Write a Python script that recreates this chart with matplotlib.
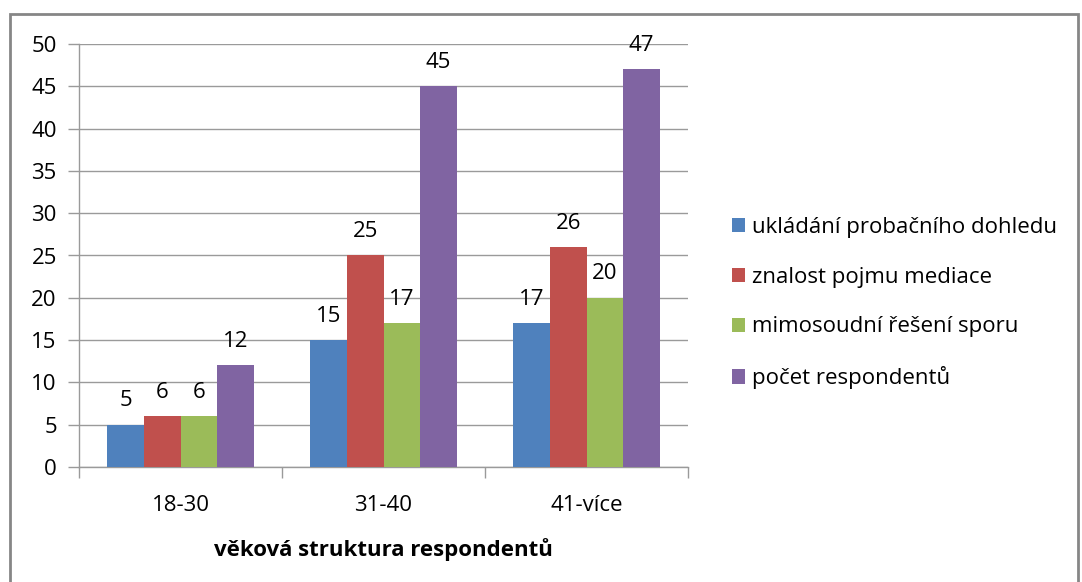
import matplotlib
matplotlib.use("Agg")
import matplotlib.pyplot as plt
import numpy as np
from matplotlib.patches import Rectangle

categories = ["18-30", "31-40", "41-více"]
series_names = ["ukládání probačního dohledu", "znalost pojmu mediace",
                "mimosoudní řešení sporu", "počet respondentů"]
s1 = [5, 15, 17]
s2 = [6, 25, 26]
s3 = [6, 17, 20]
s4 = [12, 45, 47]
series = [s1, s2, s3, s4]
colors = ["#4F81BD", "#C0504D", "#9BBB59", "#8064A2"]
yticks = [0, 5, 10, 15, 20, 25, 30, 35, 40, 45, 50]

plt.rcParams['font.family'] = ['Open Sans', 'DejaVu Sans']
FS = 16

W, H = 1082, 582
fig = plt.figure(figsize=(W/100, H/100), dpi=100)
fig.patches.append(Rectangle((10/W, -0.05), (1078-10)/W, 1.05-14/H, transform=fig.transFigure,
                             fill=False, edgecolor="#868686", linewidth=2))

left, right, top, bottom = 79, 688, 44, 467
ax = fig.add_axes([left/W, 1-bottom/H, (right-left)/W, (bottom-top)/H])

x = np.arange(len(categories))
bw = 0.18
for i, (vals, c, name) in enumerate(zip(series, colors, series_names)):
    pos = x + (i - 1.5) * bw
    bars = ax.bar(pos, vals, width=bw, color=c, label=name, zorder=3)
    for p, v in zip(pos, vals):
        ax.text(p, v + 1.6, str(v), ha="center", va="bottom", fontsize=FS, color="#000000")

ax.set_xlim(-0.5, len(categories) - 0.5)
ax.set_ylim(0, 50)
ax.set_yticks(yticks)
ax.set_yticklabels([str(t) for t in yticks], fontsize=FS)
ax.yaxis.grid(True, color="#9a9a9a", linewidth=1, zorder=0)
ax.set_axisbelow(True)
ax.set_xticks(x)
ax.set_xticklabels(categories, fontsize=FS)
ax.tick_params(axis="x", length=0, pad=20)
ax.tick_params(axis="y", length=8, color="#9a9a9a", width=1, pad=8)
ax.set_xticks(np.arange(len(categories) + 1) - 0.5, minor=True)
ax.tick_params(axis="x", which="minor", length=8, color="#9a9a9a", width=1, direction="out")
for s in ["top", "right"]:
    ax.spines[s].set_visible(False)
for s in ["left", "bottom"]:
    ax.spines[s].set_color("#9a9a9a")
    ax.spines[s].set_linewidth(1)
ax.set_xlabel("věková struktura respondentů", fontsize=FS, fontweight="bold", labelpad=16)

handles, labels = ax.get_legend_handles_labels()
leg = fig.legend(handles, labels, loc="center left", bbox_to_anchor=(712/W, 1-303/H),
                 frameon=False, fontsize=FS, handlelength=0.6, handleheight=0.6,
                 handletextpad=0.3, labelspacing=1.3)

fig.savefig("out.png", dpi=100)
